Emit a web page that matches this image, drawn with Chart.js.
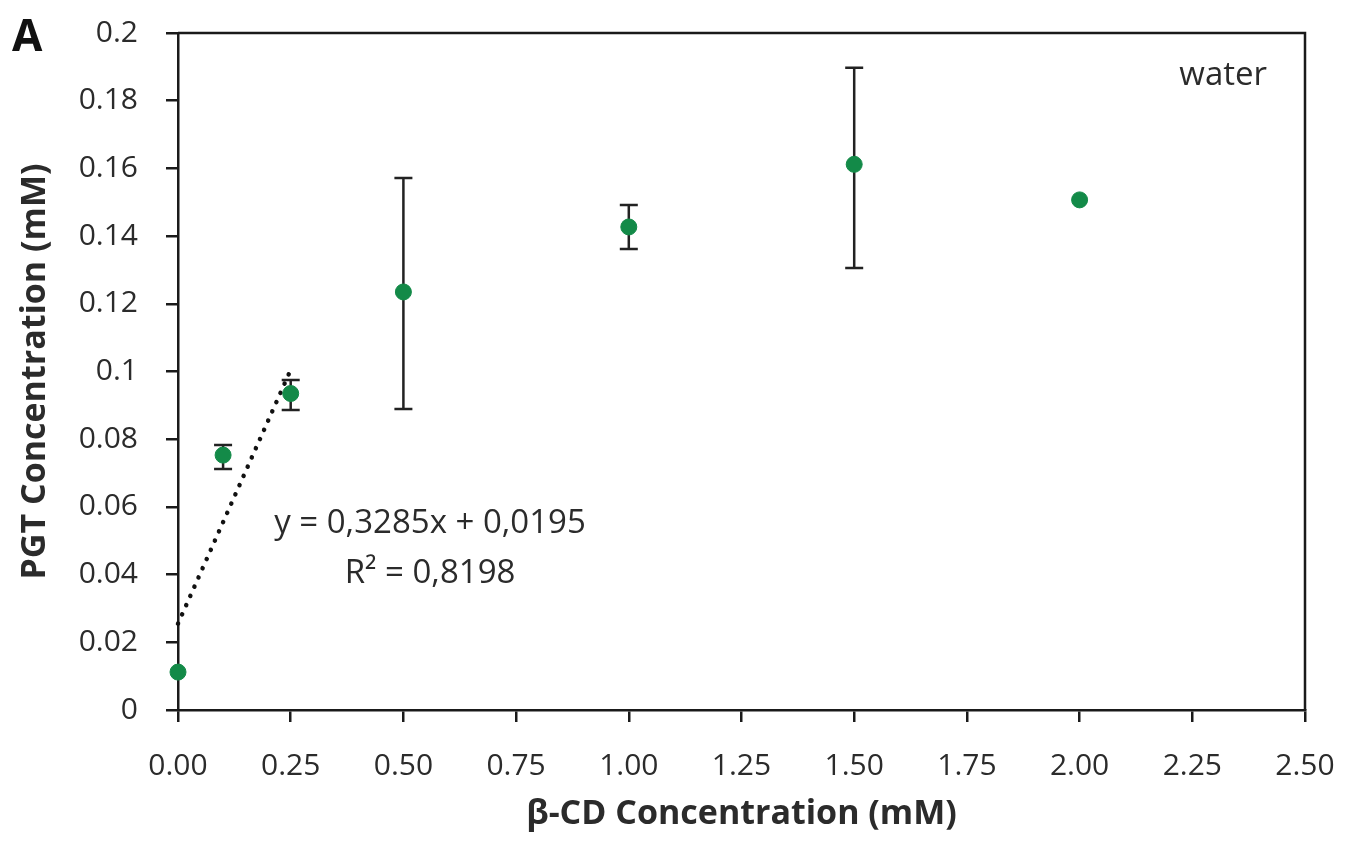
<!DOCTYPE html>
<html>
<head>
<meta charset="utf-8">
<script src="https://cdn.jsdelivr.net/npm/chart.js@4.4.1/dist/chart.umd.min.js"></script>
<style>
    html, body { margin: 0; padding: 0; background: #fff; }
    #wrap { width: 1346px; height: 846px; }
</style>
</head>
<body>
<div id="wrap"><canvas id="chart" width="1346" height="846"></canvas></div>
<script>
// beta-CD concentration (mM) and measured PGT concentration (mM)
const cdConc = [0, 0.1, 0.25, 0.5, 1.0, 1.5, 2.0];
const pgtConc = [0.0112, 0.0753, 0.0935, 0.1235, 0.1427, 0.1612, 0.1507];
const errLow = [0.0112, 0.0712, 0.0886, 0.0889, 0.1362, 0.1306, 0.1507];
const errHigh = [0.0112, 0.0783, 0.0975, 0.1572, 0.1492, 0.1897, 0.1507];

// linear trendline drawn on the first points
const trendX = [0, 0.25];
const trendY = [0.0255, 0.1005];

const xTicks = [0, 0.25, 0.5, 0.75, 1.0, 1.25, 1.5, 1.75, 2.0, 2.25, 2.5];
const yTicks = [0, 0.02, 0.04, 0.06, 0.08, 0.1, 0.12, 0.14, 0.16, 0.18, 0.2];

const FONT = "'Open Sans', 'DejaVu Sans', sans-serif";
const INK = "#2b2b2b";

const frameAndBars = {
    id: "frameAndBars",
    beforeDatasetsDraw(chart) {
        const { ctx, chartArea: a, scales } = chart;
        ctx.save();
        // top and right border of the plot box
        ctx.strokeStyle = "#1a1a1a";
        ctx.lineWidth = 2.5;
        ctx.beginPath();
        ctx.moveTo(a.left, a.top);
        ctx.lineTo(a.right, a.top);
        ctx.lineTo(a.right, a.bottom);
        ctx.stroke();

        // error bars
        ctx.lineWidth = 2.5;
        ctx.strokeStyle = "#222";
        cdConc.forEach((x, i) => {
            if (errHigh[i] - errLow[i] < 0.002) return;
            const px = scales.x.getPixelForValue(x);
            const top = scales.y.getPixelForValue(errHigh[i]);
            const bot = scales.y.getPixelForValue(errLow[i]);
            ctx.beginPath();
            ctx.moveTo(px, top);
            ctx.lineTo(px, bot);
            ctx.moveTo(px - 9, top);
            ctx.lineTo(px + 9, top);
            ctx.moveTo(px - 9, bot);
            ctx.lineTo(px + 9, bot);
            ctx.stroke();
        });
        ctx.restore();
    },
    afterDraw(chart) {
        const { ctx, chartArea: a } = chart;
        ctx.save();
        ctx.textBaseline = "middle";

        ctx.font = "bold 44px " + FONT;
        ctx.textAlign = "left";
        ctx.fillStyle = "#111";
        ctx.fillText("A", 12, 38);

        ctx.fillStyle = INK;
        ctx.font = "33px " + FONT;
        ctx.textAlign = "right";
        ctx.fillText("water", a.right - 38, 76);

        ctx.textAlign = "center";
        ctx.fillText("y = 0,3285x + 0,0195", 430, 524);
        ctx.fillText("R\u00b2 = 0,8198", 430, 574);
        ctx.restore();
    },
};

function buildTicks(values) {
    return (scale) => {
        scale.ticks = values.map((v) => ({ value: v }));
    };
}

const ctx = document.getElementById("chart").getContext("2d");

new Chart(ctx, {
    type: "scatter",
    data: {
        datasets: [
            {
                label: "PGT",
                data: cdConc.map((x, i) => ({ x: x, y: pgtConc[i] })),
                backgroundColor: "#138a48",
                borderColor: "#138a48",
                pointRadius: 8,
                clip: false,
                order: 1,
            },
            {
                label: "trend",
                type: "line",
                data: trendX.map((x, i) => ({ x: x, y: trendY[i] })),
                borderColor: "#111",
                borderWidth: 4.5,
                borderDash: [0.1, 10],
                borderCapStyle: "round",
                pointRadius: 0,
                fill: false,
                clip: false,
                order: 2,
            },
        ],
    },
    options: {
        responsive: false,
        animation: false,
        layout: { padding: { left: 0, top: 33, right: 41, bottom: 0 } },
        plugins: {
            legend: { display: false },
            tooltip: { enabled: false },
        },
        scales: {
            x: {
                type: "linear",
                min: 0,
                max: 2.5,
                afterBuildTicks: buildTicks(xTicks),
                afterFit: (s) => {
                    s.height = 136;
                    s.paddingLeft = 0;
                    s.paddingRight = 0;
                },
                border: { display: true, color: "#1a1a1a", width: 2.5 },
                grid: {
                    drawOnChartArea: false,
                    drawTicks: true,
                    tickLength: 12,
                    color: "#1a1a1a",
                    lineWidth: 2.5,
                },
                ticks: {
                    padding: 26,
                    color: INK,
                    font: { family: FONT, size: 30 },
                    maxRotation: 0,
                    callback: (v) => Number(v).toFixed(2),
                },
                title: {
                    display: true,
                    text: "\u03b2-CD Concentration (mM)",
                    color: INK,
                    font: { family: FONT, size: 34, weight: "bold" },
                    padding: { top: 0, bottom: 11 },
                },
            },
            y: {
                type: "linear",
                min: 0,
                max: 0.2,
                afterBuildTicks: buildTicks(yTicks),
                afterFit: (s) => {
                    s.width = 178;
                    s.paddingTop = 0;
                    s.paddingBottom = 0;
                },
                border: { display: true, color: "#1a1a1a", width: 2.5 },
                grid: {
                    drawOnChartArea: false,
                    drawTicks: true,
                    tickLength: 12,
                    color: "#1a1a1a",
                    lineWidth: 2.5,
                },
                ticks: {
                    padding: 28,
                    color: INK,
                    font: { family: FONT, size: 30 },
                    callback: (v) => String(+Number(v).toFixed(2)),
                },
                title: {
                    display: true,
                    text: "PGT Concentration (mM)",
                    color: INK,
                    font: { family: FONT, size: 34, weight: "bold" },
                    padding: { top: 15, bottom: 0 },
                },
            },
        },
    },
    plugins: [frameAndBars],
});
</script>
</body>
</html>
